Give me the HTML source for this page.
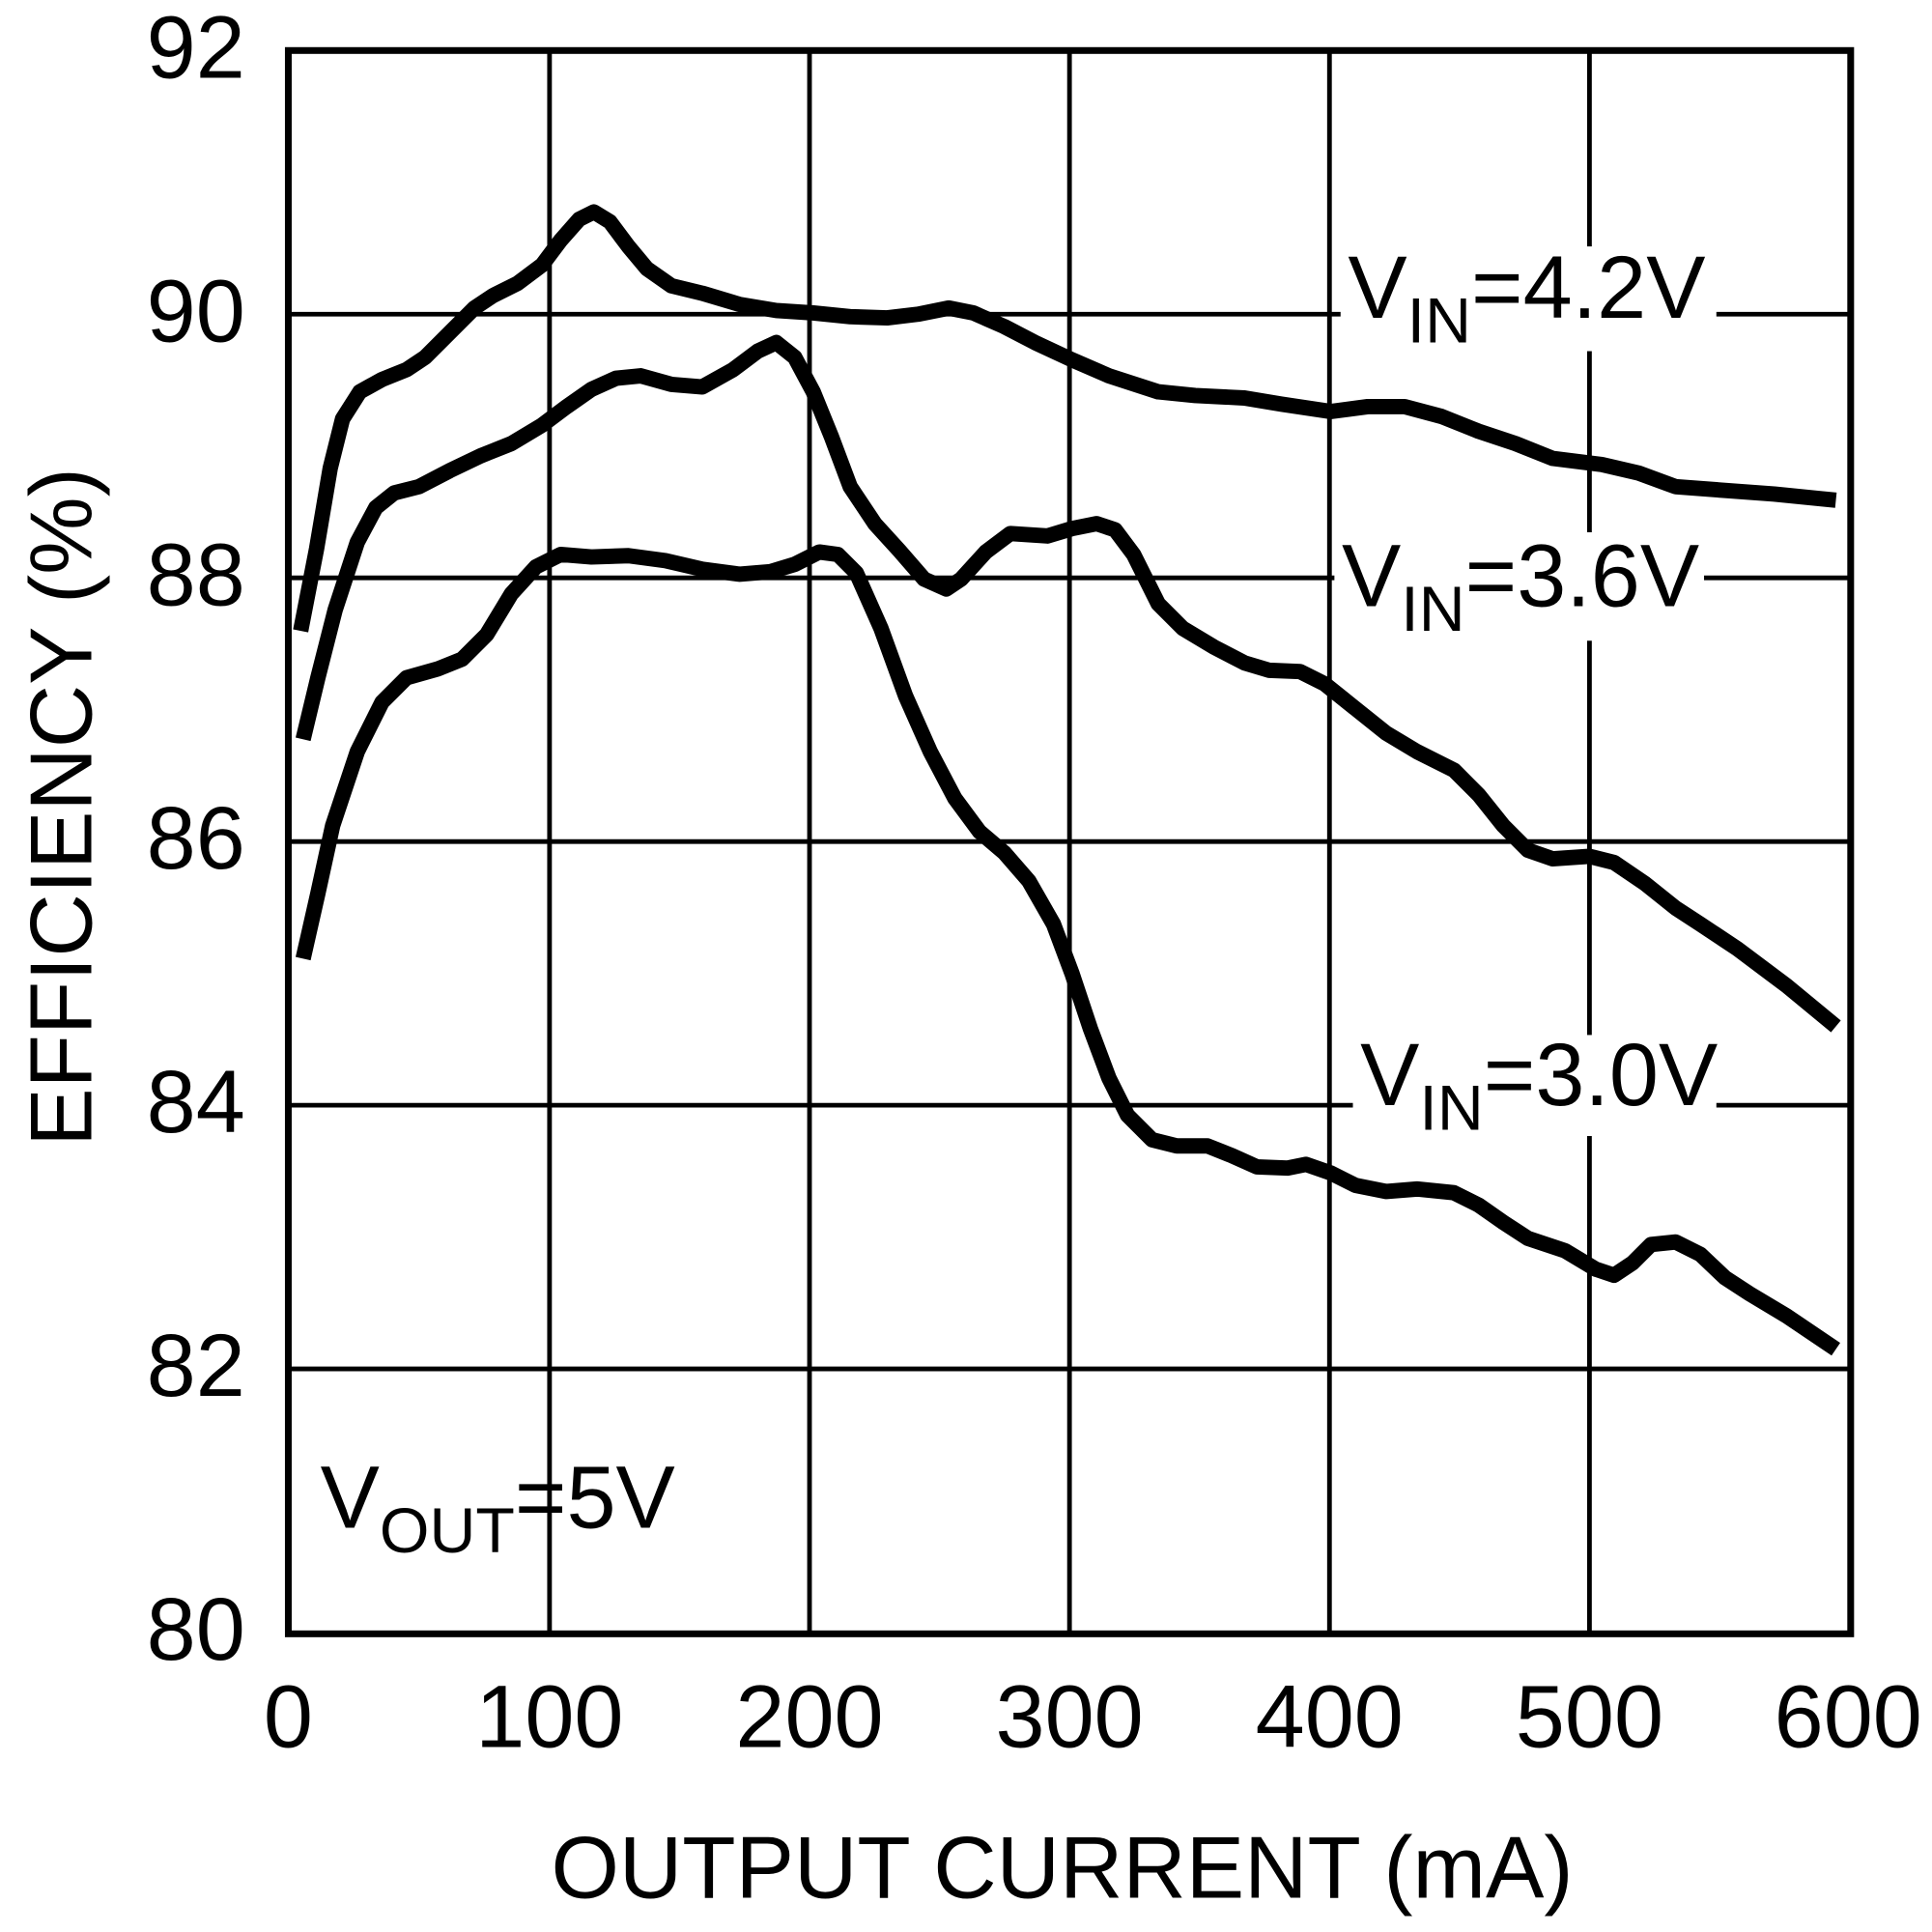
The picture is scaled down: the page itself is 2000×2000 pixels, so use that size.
<!DOCTYPE html>
<html><head><style>html,body{margin:0;padding:0;background:#fff}svg{display:block}</style></head>
<body>
<svg width="2000" height="2000" viewBox="0 0 1568 1568" xmlns="http://www.w3.org/2000/svg" font-family="Liberation Sans, Arial, sans-serif">
<rect width="1568" height="1568" fill="#fff"/>
<g stroke="#000" stroke-width="3.8">
<line x1="446" y1="41" x2="446" y2="1326"/><line x1="657" y1="41" x2="657" y2="1326"/>
<line x1="868" y1="41" x2="868" y2="1326"/><line x1="1079" y1="41" x2="1079" y2="1326"/>
<line x1="1290" y1="41" x2="1290" y2="1326"/>
<line x1="234" y1="255" x2="1502" y2="255"/><line x1="234" y1="469" x2="1502" y2="469"/>
<line x1="234" y1="683" x2="1502" y2="683"/><line x1="234" y1="897" x2="1502" y2="897"/>
<line x1="234" y1="1111" x2="1502" y2="1111"/>
</g>
<rect x="234" y="41" width="1268" height="1285" fill="none" stroke="#000" stroke-width="5.5"/>
<g fill="none" stroke="#000" stroke-width="12.5" stroke-linejoin="round">
<polyline points="244,512 257,445 268,380 278,340 292,318 310,308 330,300 345,290 365,270 385,250 400,240 420,230 440,215 455,195 470,178 482,172 495,180 510,200 525,218 545,232 570,238 600,247 630,252 660,254 690,257 720,258 745,255 770,250 790,254 815,265 840,278 870,292 900,305 940,318 970,321 1010,323 1040,328 1080,334 1110,330 1140,330 1170,338 1200,350 1230,360 1260,372 1300,377 1330,384 1360,395 1400,398 1440,401 1490,406"/>
<polyline points="246,600 258,550 272,495 290,440 305,412 320,400 340,395 365,382 390,370 415,360 440,345 460,330 480,316 500,307 520,305 545,312 570,314 595,300 615,285 630,278 645,290 660,318 675,355 690,395 710,425 730,447 750,470 768,478 780,470 800,448 820,433 850,435 870,429 890,425 905,430 920,450 940,490 960,510 985,525 1010,538 1030,544 1055,545 1075,555 1100,575 1125,595 1150,610 1180,625 1200,645 1220,670 1240,690 1260,697 1290,695 1310,700 1335,717 1360,737 1380,750 1410,770 1450,800 1490,833"/>
<polyline points="246,778 258,725 270,670 290,610 310,570 330,550 355,543 375,535 395,515 415,482 435,460 455,450 480,452 510,451 540,455 570,462 600,466 625,464 645,458 665,448 680,450 695,465 715,510 735,565 755,610 775,648 795,675 815,692 835,715 855,750 870,790 885,835 900,875 915,905 935,925 955,930 980,930 1000,938 1020,947 1045,948 1060,945 1080,952 1100,962 1125,967 1150,965 1180,968 1200,978 1220,992 1240,1005 1270,1015 1295,1030 1310,1035 1325,1025 1340,1010 1360,1008 1380,1018 1400,1037 1420,1050 1450,1068 1490,1095"/>
</g>
<g fill="#fff">
<rect x="1088" y="200" width="305" height="85"/>
<rect x="1083" y="432" width="300" height="88"/>
<rect x="1098" y="840" width="295" height="82"/>
</g>
<g font-size="72" fill="#000">
<text x="1094" y="258">V<tspan font-size="52" dy="20">IN</tspan><tspan dy="-20">=4.2V</tspan></text>
<text x="1089" y="492">V<tspan font-size="52" dy="20">IN</tspan><tspan dy="-20">=3.6V</tspan></text>
<text x="1104" y="897">V<tspan font-size="52" dy="20">IN</tspan><tspan dy="-20">=3.0V</tspan></text>
<text x="260" y="1240">V<tspan font-size="52" dy="20">OUT</tspan><tspan dy="-20">=5V</tspan></text>
</g>
<g font-size="72" fill="#000" text-anchor="end">
<text x="199" y="63">92</text><text x="199" y="277">90</text><text x="199" y="491">88</text>
<text x="199" y="705">86</text><text x="199" y="919">84</text><text x="199" y="1133">82</text>
<text x="199" y="1347">80</text>
</g>
<g font-size="72" fill="#000" text-anchor="middle">
<text x="234" y="1418">0</text><text x="446" y="1418">100</text><text x="657" y="1418">200</text>
<text x="868" y="1418">300</text><text x="1079" y="1418">400</text><text x="1290" y="1418">500</text>
<text x="1500" y="1418">600</text>
<text x="862" y="1540" font-size="71">OUTPUT CURRENT (mA)</text>
<text transform="translate(74,655) rotate(-90)" font-size="71">EFFICIENCY (%)</text>
</g>
</svg>
</body></html>
